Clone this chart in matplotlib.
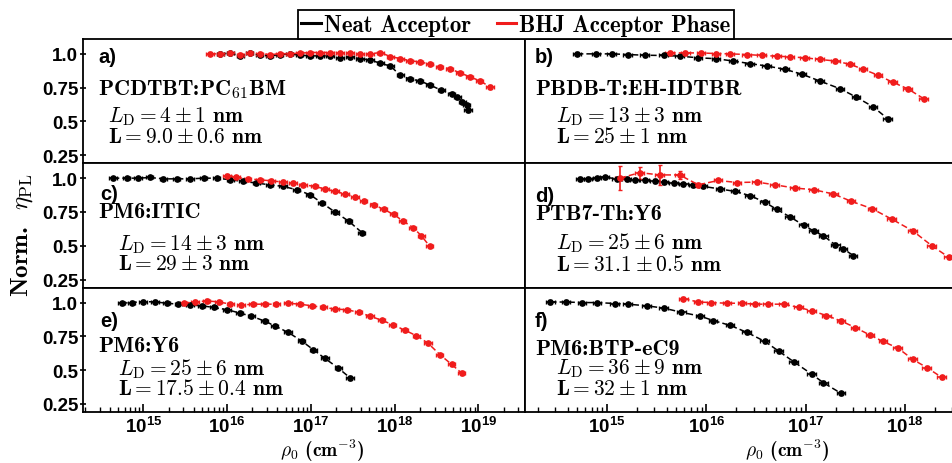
import numpy as np
import matplotlib
matplotlib.use("Agg")
import matplotlib.pyplot as plt
from matplotlib.lines import Line2D
from matplotlib.ticker import LogLocator, NullFormatter

plt.rcParams['font.family'] = 'Liberation Sans'
plt.rcParams['font.weight'] = 'bold'

NEAT = 'black'
BHJ = '#f01c1c'

# log10 of rho0 (cm^-3) and normalised PL yield
a_neat_log = [15.92, 16.04, 16.16, 16.27, 16.39, 16.51, 16.63, 16.75, 16.87, 16.99,
              17.11, 17.23, 17.35, 17.47, 17.59, 17.71, 17.83, 17.95, 18.07, 18.18,
              18.30, 18.42, 18.56, 18.68, 18.75, 18.81, 18.86, 18.88]
a_neat_y = [1.0, 1.005, 0.985, 1.01, 0.99, 0.985, 0.995, 1.0, 0.99, 0.985,
            0.985, 0.985, 0.97, 0.975, 0.965, 0.955, 0.93, 0.91, 0.84, 0.815,
            0.80, 0.77, 0.73, 0.705, 0.68, 0.645, 0.62, 0.585]
a_bhj_log = [15.80, 15.92, 16.04, 16.16, 16.27, 16.39, 16.51, 16.63, 16.75, 16.87,
             16.99, 17.11, 17.23, 17.35, 17.47, 17.59, 17.71, 17.83, 17.95, 18.07,
             18.18, 18.30, 18.42, 18.54, 18.66, 18.78, 18.90, 19.02, 19.14]
a_bhj_y = [1.0, 1.0, 1.005, 0.995, 1.005, 1.0, 0.995, 1.0, 1.0, 1.005,
           1.01, 1.01, 1.01, 1.01, 1.005, 1.0, 1.0, 1.01, 0.98, 0.965,
           0.95, 0.94, 0.925, 0.905, 0.89, 0.86, 0.83, 0.80, 0.755]

b_neat_log = [14.70, 14.89, 15.05, 15.21, 15.38, 15.57, 15.73, 15.92, 16.10, 16.27,
              16.44, 16.61, 16.79, 16.96, 17.14, 17.35, 17.51, 17.68, 17.83]
b_neat_y = [1.0, 1.0, 1.0, 0.995, 0.99, 0.988, 0.983, 0.971, 0.964, 0.947,
            0.928, 0.91, 0.886, 0.85, 0.80, 0.741, 0.68, 0.608, 0.518]
b_bhj_log = [15.63, 15.79, 15.95, 16.10, 16.24, 16.41, 16.56, 16.71, 16.84, 16.99,
             17.14, 17.30, 17.45, 17.58, 17.73, 17.88, 18.03, 18.19]
b_bhj_y = [1.007, 1.007, 1.007, 1.002, 1.0, 0.995, 0.988, 0.983, 0.978, 0.971,
           0.959, 0.947, 0.922, 0.886, 0.842, 0.789, 0.741, 0.668]

c_neat_log = [14.64, 14.80, 14.94, 15.08, 15.24, 15.40, 15.56, 15.72, 15.88, 16.04,
              16.19, 16.35, 16.51, 16.67, 16.83, 16.99, 17.13, 17.29, 17.45, 17.61]
c_neat_y = [1.0, 1.0, 1.0, 1.005, 0.995, 0.995, 0.995, 1.0, 1.0, 0.988,
            0.976, 0.964, 0.951, 0.939, 0.915, 0.878, 0.818, 0.749, 0.683, 0.598]
c_bhj_log = [16.00, 16.11, 16.25, 16.39, 16.53, 16.67, 16.79, 16.91, 17.05, 17.17,
             17.29, 17.41, 17.53, 17.63, 17.75, 17.87, 17.99, 18.10, 18.22, 18.32, 18.42]
c_bhj_y = [1.019, 1.005, 0.995, 0.988, 0.98, 0.971, 0.964, 0.951, 0.939, 0.92,
           0.902, 0.883, 0.861, 0.834, 0.805, 0.769, 0.732, 0.683, 0.635, 0.574, 0.496]

d_neat_log = [14.73, 14.81, 14.90, 14.98, 15.10, 15.20, 15.28, 15.38, 15.48, 15.57,
              15.67, 15.77, 15.87, 15.97, 16.14, 16.29, 16.44, 16.59, 16.71, 16.84,
              16.98, 17.08, 17.18, 17.30, 17.38, 17.48]
d_neat_y = [0.993, 0.995, 1.0, 1.007, 0.995, 0.993, 0.988, 0.983, 0.98, 0.971,
            0.964, 0.956, 0.946, 0.939, 0.92, 0.902, 0.871, 0.822, 0.769, 0.715,
            0.652, 0.61, 0.574, 0.506, 0.477, 0.428]
d_bhj_log = [15.13, 15.33, 15.53, 15.73, 15.92, 16.12, 16.31, 16.51, 16.69, 16.89,
             17.08, 17.28, 17.46, 17.67, 17.87, 18.08, 18.27, 18.44]
d_bhj_y = [1.0, 1.041, 1.024, 1.024, 0.951, 0.983, 0.968, 0.971, 0.951, 0.927,
           0.915, 0.883, 0.829, 0.774, 0.696, 0.61, 0.501, 0.416]
d_bhj_yerr = [0.088, 0.045, 0.075, 0.03, 0.015, 0.012, 0.012, 0.012, 0.012, 0.012,
              0.012, 0.012, 0.012, 0.012, 0.012, 0.012, 0.012, 0.012]

e_neat_log = [14.74, 14.86, 15.00, 15.14, 15.28, 15.42, 15.56, 15.70, 15.84, 16.00,
              16.15, 16.29, 16.45, 16.57, 16.73, 16.89, 17.03, 17.17, 17.33, 17.47]
e_neat_y = [0.995, 1.0, 1.007, 1.005, 0.995, 0.988, 0.981, 0.976, 0.964, 0.947,
            0.923, 0.899, 0.863, 0.827, 0.779, 0.716, 0.651, 0.586, 0.514, 0.442]
e_bhj_log = [15.48, 15.62, 15.76, 15.90, 16.04, 16.17, 16.31, 16.45, 16.59, 16.73,
             16.87, 17.01, 17.15, 17.29, 17.43, 17.57, 17.71, 17.85, 17.98, 18.12,
             18.26, 18.40, 18.54, 18.68, 18.80]
e_bhj_y = [0.995, 1.005, 1.012, 1.005, 0.988, 0.981, 0.988, 0.988, 0.988, 0.995,
           0.988, 0.976, 0.964, 0.952, 0.947, 0.928, 0.899, 0.868, 0.836, 0.796,
           0.755, 0.699, 0.615, 0.543, 0.478]

f_neat_log = [14.43, 14.59, 14.75, 14.90, 15.08, 15.21, 15.40, 15.57, 15.75, 15.94,
              16.07, 16.24, 16.41, 16.59, 16.73, 16.88, 17.06, 17.18, 17.36]
f_neat_y = [1.004, 1.004, 1.0, 1.0, 0.993, 0.988, 0.976, 0.959, 0.928, 0.899,
            0.867, 0.831, 0.779, 0.712, 0.64, 0.562, 0.471, 0.406, 0.327]
f_bhj_log = [15.77, 15.92, 16.05, 16.21, 16.36, 16.49, 16.62, 16.78, 16.93, 17.06,
             17.21, 17.36, 17.50, 17.65, 17.78, 17.93, 18.08, 18.22, 18.37]
f_bhj_y = [1.029, 1.004, 1.0, 0.995, 0.995, 0.988, 0.988, 0.988, 0.964, 0.94,
           0.904, 0.863, 0.815, 0.759, 0.712, 0.663, 0.579, 0.519, 0.447]

tags = ['a)', 'b)', 'c)', 'd)', 'e)', 'f)']
systems = ['PCDTBT:PC$_{\\mathbf{61}}$BM', 'PBDB-T:EH-IDTBR', 'PM6:ITIC',
           'PTB7-Th:Y6', 'PM6:Y6', 'PM6:BTP-eC9']
LD_val = [('4', '1'), ('13', '3'), ('14', '3'), ('25', '6'), ('25', '6'), ('36', '9')]
L_val = [('9.0', '0.6'), ('25', '1'), ('29', '3'), ('31.1', '0.5'), ('17.5', '0.4'), ('32', '1')]
yticks = [0.25, 0.5, 0.75, 1.0]
yticklabels = ['0.25', '0.5', '0.75', '1.0']

panels = [
    (a_neat_log, a_neat_y, a_bhj_log, a_bhj_y, None),
    (b_neat_log, b_neat_y, b_bhj_log, b_bhj_y, None),
    (c_neat_log, c_neat_y, c_bhj_log, c_bhj_y, None),
    (d_neat_log, d_neat_y, d_bhj_log, d_bhj_y, d_bhj_yerr),
    (e_neat_log, e_neat_y, e_bhj_log, e_bhj_y, None),
    (f_neat_log, f_neat_y, f_bhj_log, f_bhj_y, None),
]

# text placement (axes coords) per panel: tag, system, LD, L
text_pos = [
    [(0.034, 0.86), (0.034, 0.60), (0.057, 0.38), (0.057, 0.212)],
    [(0.023, 0.856), (0.023, 0.60), (0.07, 0.38), (0.07, 0.22)],
    [(0.038, 0.76), (0.034, 0.616), (0.079, 0.356), (0.079, 0.196)],
    [(0.023, 0.744), (0.023, 0.60), (0.07, 0.364), (0.07, 0.188)],
    [(0.038, 0.74), (0.034, 0.537), (0.079, 0.35), (0.079, 0.19)],
    [(0.023, 0.74), (0.023, 0.51), (0.07, 0.354), (0.07, 0.19)],
]
xlabel_x = [0.54, 0.60]

W, H = 953, 464
col_px = [(83, 525), (525, 962)]
row_px = [(40, 164.3), (164.3, 288.7), (288.7, 413)]
xlims = [(10 ** 14.28, 10 ** 19.557), (10 ** 14.174, 10 ** 18.575)]

fig = plt.figure(figsize=(9.53, 4.64), dpi=100)


def draw(ax, logx, y, color, yerr=None):
    x = 10.0 ** np.asarray(logx)
    if yerr is None:
        yerr = 0.012
    ax.errorbar(x, y, xerr=0.1 * x, yerr=yerr, fmt='none', ecolor=color,
                elinewidth=1.2, capsize=1.5, capthick=1.0, zorder=3)
    ax.plot(x, y, color=color, ls=(0, (4, 2)), lw=1.1, marker='o', ms=3.8,
            zorder=4)


txt = dict(fontsize=15.5, va='center', family='cmb10', math_fontfamily='cm')

for i, (nl, ny, bl, by, byerr) in enumerate(panels):
    r, c = divmod(i, 2)
    x0, x1 = col_px[c]
    y0, y1 = row_px[r]
    ax = fig.add_axes([x0 / W, 1 - y1 / H, (x1 - x0) / W, (y1 - y0) / H])
    draw(ax, nl, ny, NEAT)
    draw(ax, bl, by, BHJ, byerr)
    ax.set_xscale('log')
    ax.set_xlim(*xlims[c])
    ax.set_ylim(0.19, 1.11)
    for s in ax.spines.values():
        s.set_linewidth(1.3)
    ax.xaxis.set_major_locator(LogLocator(base=10, numticks=20))
    ax.xaxis.set_minor_locator(LogLocator(base=10, subs=np.arange(2, 10), numticks=20))
    ax.xaxis.set_minor_formatter(NullFormatter())
    if r < 2:
        ax.tick_params(axis='x', which='both', bottom=False, labelbottom=False)
    else:
        ax.tick_params(axis='x', which='major', direction='in', length=6, width=1.2,
                       labelsize=13.5, pad=3)
        ax.tick_params(axis='x', which='minor', direction='in', length=3.5, width=1.0)
        ax.set_xlabel(r'$\rho_0$ (cm$^{-3}$)', family='cmb10', math_fontfamily='cm',
                      fontsize=14)
        ax.xaxis.set_label_coords(xlabel_x[c], -0.196)
    ax.set_yticks(yticks)
    if c == 0:
        ax.set_yticklabels(yticklabels)
        ax.tick_params(axis='y', direction='inout', length=5, width=1.2,
                       labelsize=13.5, pad=1)
    else:
        ax.tick_params(axis='y', left=False, labelleft=False)

    p = text_pos[i]
    ax.text(*p[0], tags[i], transform=ax.transAxes, fontsize=14.5, va='center',
            fontweight='bold')
    ax.text(*p[1], systems[i], transform=ax.transAxes, **dict(txt, fontsize=16))
    v, e = LD_val[i]
    ax.text(*p[2], r'$L_{\mathrm{D}} = \mathbf{%s} \pm \mathbf{%s}$ nm' % (v, e),
            transform=ax.transAxes, **txt)
    v, e = L_val[i]
    ax.text(*p[3], r'L$ = \mathbf{%s} \pm \mathbf{%s}$ nm' % (v, e),
            transform=ax.transAxes, **txt)

fig.text(22 / W, 0.494, r'Norm.  $\eta_{\mathrm{PL}}$', rotation=90, va='center',
         ha='center', family='cmb10', math_fontfamily='cm', fontsize=18)

handles = [Line2D([0], [0], color=NEAT, lw=2.2), Line2D([0], [0], color=BHJ, lw=2.2)]
leg = fig.legend(handles, ['Neat Acceptor', 'BHJ Acceptor Phase'], loc='lower center',
                 bbox_to_anchor=(516 / W, 1 - 40 / H), ncol=2, frameon=True,
                 fancybox=False, edgecolor='black', framealpha=1, borderaxespad=0,
                 handlelength=0.85, handletextpad=0.15, columnspacing=1.1,
                 borderpad=0.15, prop={'family': 'cmb10', 'size': 16.5})
leg.get_frame().set_linewidth(1.3)

fig.savefig('out.png', dpi=100)
